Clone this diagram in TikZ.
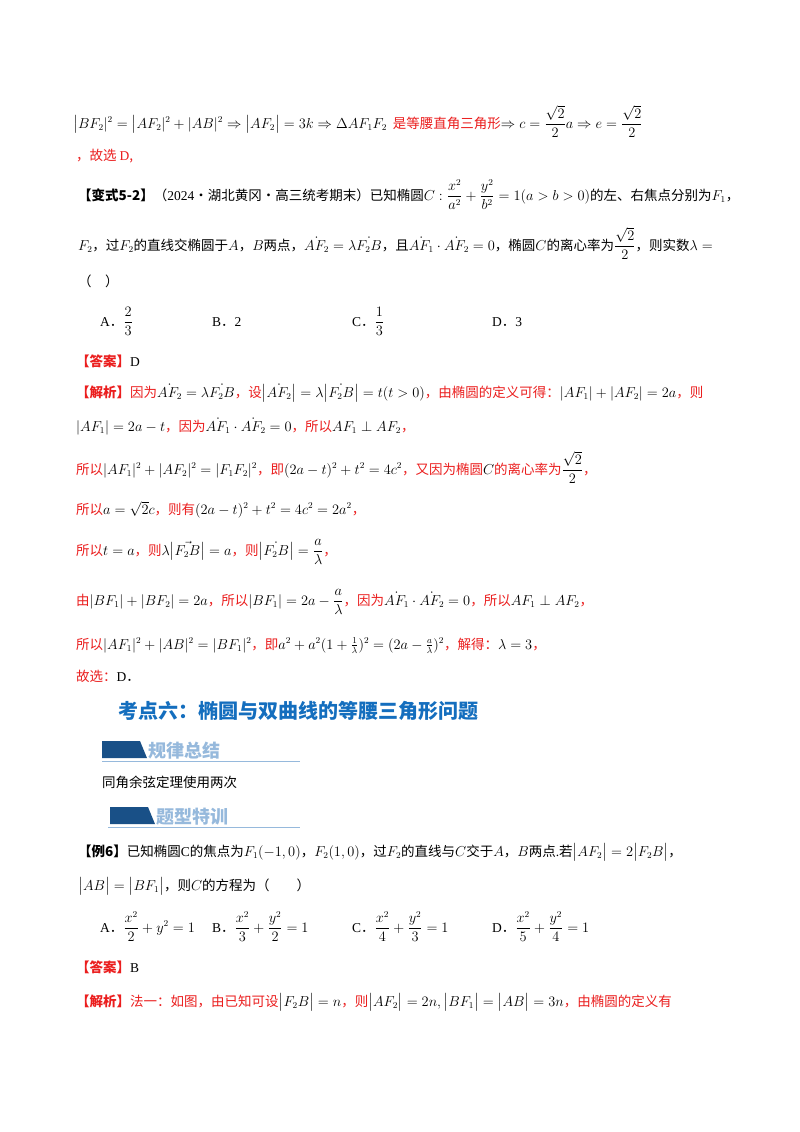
\documentclass[tikz,border=0pt]{standalone}
\usepackage{amsmath}
\usepackage{fontspec}
\setmainfont{Noto Sans CJK SC}
\newfontfamily\lat{Liberation Serif}
\definecolor{rd}{RGB}{235,30,30}
\definecolor{hb}{RGB}{20,110,190}
\definecolor{bd}{RGB}{25,80,135}
\definecolor{bl}{RGB}{150,185,220}
\newcommand{\fs}{\fontsize{13.5}{16}\selectfont}
\begin{document}
\begin{tikzpicture}[x=1pt,y=-1pt,
 txt/.style={anchor=base west,inner sep=0pt,font=\fs},
 banner/.style={anchor=base west,inner sep=0pt,font=\fontsize{18}{20}\selectfont\bfseries,text=bl}]
\useasboundingbox (0,0) rectangle (800,1132);
\fill[white] (0,0) rectangle (800,1132);
\node[txt] (l1) at (73,128) {$\bigl|BF_2|^2=\bigl|AF_2|^2+|AB|^2\Rightarrow\bigl|AF_2\bigr|=3k\Rightarrow\Delta AF_1F_2$\ \ \textcolor{rd}{是等腰直角三角形}$\Rightarrow c=\dfrac{\sqrt2}{2}a\Rightarrow e=\dfrac{\sqrt2}{2}$};
\node[txt,text=rd] (l2) at (76,160) {，故选 {\lat D},};
\node[txt] (l3) at (78,200) {\textbf{【变式5-2】}（{\lat 2024}·湖北黄冈·高三统考期末）已知椭圆$C:\dfrac{x^2}{a^2}+\dfrac{y^2}{b^2}=1(a>b>0)$的左、右焦点分别为$F_1$，};
\node[txt] (l4) at (78,250) {$F_2$，过$F_2$的直线交椭圆于$A$，$B$两点，$\dot{AF_2}=\lambda\dot{F_2B}$，且$\dot{AF_1}\cdot\dot{AF_2}=0$，椭圆$C$的离心率为$\dfrac{\sqrt2}{2}$，则实数$\lambda=$};
\node[txt] (l5) at (78,286) {（\quad）};
\node[txt] (oA) at (100,326) {{\lat A}．$\dfrac{2}{3}$};
\node[txt] (oB) at (212,326) {{\lat B}．{\lat 2}};
\node[txt] (oC) at (352,326) {{\lat C}．$\dfrac{1}{3}$};
\node[txt] (oD) at (492,326) {{\lat D}．{\lat 3}};
\node[txt] (l6) at (76,366) {\textcolor{rd}{\textbf{【答案】}}{\lat D}};
\node[txt] (l7) at (76,397) {\textcolor{rd}{\textbf{【解析】}因为}$\dot{AF_2}=\lambda\dot{F_2B}$\textcolor{rd}{，设}$\bigl|\dot{AF_2}\bigr|=\lambda\bigl|\dot{F_2B}\bigr|=t(t>0)$\textcolor{rd}{，由椭圆的定义可得：}$|AF_1|+|AF_2|=2a$\textcolor{rd}{，则}};
\node[txt] (l8) at (76,431) {$|AF_1|=2a-t$\textcolor{rd}{，因为}$\dot{AF_1}\cdot\dot{AF_2}=0$\textcolor{rd}{，所以}$AF_1\perp AF_2$\textcolor{rd}{，}};
\node[txt] (l9) at (76,474) {\textcolor{rd}{所以}$|AF_1|^2+|AF_2|^2=|F_1F_2|^2$\textcolor{rd}{，即}$(2a-t)^2+t^2=4c^2$\textcolor{rd}{，又因为椭圆}$C$\textcolor{rd}{的离心率为}$\dfrac{\sqrt2}{2}$\textcolor{rd}{，}};
\node[txt] (l10) at (76,514) {\textcolor{rd}{所以}$a=\sqrt2c$\textcolor{rd}{，则有}$(2a-t)^2+t^2=4c^2=2a^2$\textcolor{rd}{，}};
\node[txt] (l11) at (76,555) {\textcolor{rd}{所以}$t=a$\textcolor{rd}{，则}$\lambda\bigl|\vec{F_2B}\bigr|=a$\textcolor{rd}{，则}$\bigl|\dot{F_2B}\bigr|=\dfrac{a}{\lambda}$\textcolor{rd}{，}};
\node[txt] (l12) at (76,605) {\textcolor{rd}{由}$|BF_1|+|BF_2|=2a$\textcolor{rd}{，所以}$|BF_1|=2a-\dfrac{a}{\lambda}$\textcolor{rd}{，因为}$\dot{AF_1}\cdot\dot{AF_2}=0$\textcolor{rd}{，所以}$AF_1\perp AF_2$\textcolor{rd}{，}};
\node[txt] (l13) at (76,649) {\textcolor{rd}{所以}$|AF_1|^2+|AB|^2=|BF_1|^2$\textcolor{rd}{，即}$a^2+a^2(1+\frac{1}{\lambda})^2=(2a-\frac{a}{\lambda})^2$\textcolor{rd}{，解得：}$\lambda=3$\textcolor{rd}{，}};
\node[txt] (l14) at (76,681) {\textcolor{rd}{故选：}{\lat D}．};
\node[anchor=base west,inner sep=0pt,font=\fontsize{20}{22}\selectfont\bfseries,text=hb] (h6) at (118,718) {考点六：椭圆与双曲线的等腰三角形问题};
\fill[bd] (102,741) -- (140,741) -- (147,758) -- (102,758) -- cycle;
\node[banner] (b1) at (148,757) {规律总结};
\draw[bl,line width=1pt] (102,761) -- (300,761);
\node[txt] (l15) at (102,787) {同角余弦定理使用两次};
\fill[bd] (110,807) -- (148,807) -- (155,824) -- (110,824) -- cycle;
\node[banner] (b2) at (156,823) {题型特训};
\draw[bl,line width=1pt] (108,827) -- (300,827);
\node[txt] (l16) at (78,856) {\textbf{【例6】}已知椭圆{\lat C}的焦点为$F_1(-1,0)$，$F_2(1,0)$，过$F_2$的直线与$C$交于$A$，$B$两点{\lat .}若$\bigl|AF_2\bigr|=2\bigl|F_2B\bigr|$，};
\node[txt] (l17) at (78,890) {$\bigl|AB\bigr|=\bigl|BF_1\bigr|$，则$C$的方程为（\qquad）};
\node[txt] (eA) at (100,932) {{\lat A}．$\dfrac{x^2}{2}+y^2=1$};
\node[txt] (eB) at (212,932) {{\lat B}．$\dfrac{x^2}{3}+\dfrac{y^2}{2}=1$};
\node[txt] (eC) at (352,932) {{\lat C}．$\dfrac{x^2}{4}+\dfrac{y^2}{3}=1$};
\node[txt] (eD) at (492,932) {{\lat D}．$\dfrac{x^2}{5}+\dfrac{y^2}{4}=1$};
\node[txt] (l18) at (76,972) {\textcolor{rd}{\textbf{【答案】}}{\lat B}};
\node[txt] (l19) at (76,1006) {\textcolor{rd}{\textbf{【解析】}法一：如图，由已知可设}$\bigl|F_2B\bigr|=n$\textcolor{rd}{，则}$\bigl|AF_2\bigr|=2n,\bigl|BF_1\bigr|=\bigl|AB\bigr|=3n$\textcolor{rd}{，由椭圆的定义有}};
\end{tikzpicture}
\end{document}
